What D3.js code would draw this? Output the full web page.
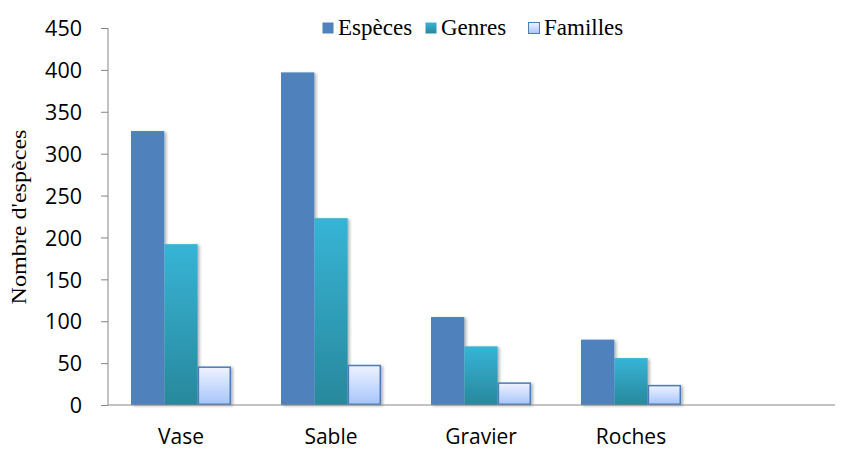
<!DOCTYPE html>
<html>
<head>
<meta charset="utf-8">
<script src="https://cdn.jsdelivr.net/npm/d3@7"></script>
<style>
  body { margin: 0; background: #fff; }
</style>
</head>
<body>
<div id="chart"></div>
<script>
var categories = ['Vase', 'Sable', 'Gravier', 'Roches'];
var seriesNames = ['Espèces', 'Genres', 'Familles'];
var especes = [327, 397, 105, 78];
var genres = [192, 223, 70, 56];
var familles = [46, 48, 27, 24];
var yTicks = [0, 50, 100, 150, 200, 250, 300, 350, 400, 450];

var width = 842, height = 449;
var margin = {left: 108, top: 28, bottom: 44};
var axisEnd = 835;

var svg = d3.select('#chart').append('svg')
  .attr('width', width)
  .attr('height', height);

var defs = svg.append('defs');

// gradient for Genres
var g1 = defs.append('linearGradient').attr('id', 'grad-genres')
  .attr('x1', 0).attr('y1', 0).attr('x2', 0).attr('y2', 1);
g1.append('stop').attr('offset', '0%').attr('stop-color', '#37b4d6');
g1.append('stop').attr('offset', '100%').attr('stop-color', '#28889c');

// gradient for Familles
var g2 = defs.append('linearGradient').attr('id', 'grad-familles')
  .attr('x1', 0).attr('y1', 0).attr('x2', 0).attr('y2', 1);
g2.append('stop').attr('offset', '0%').attr('stop-color', '#eef3ff');
g2.append('stop').attr('offset', '100%').attr('stop-color', '#a7c5fb');

// soft shadow
var filter = defs.append('filter').attr('id', 'shadow')
  .attr('x', '-20%').attr('y', '-10%').attr('width', '150%').attr('height', '130%');
filter.append('feGaussianBlur').attr('in', 'SourceAlpha').attr('stdDeviation', 1.5).attr('result', 'blur');
filter.append('feOffset').attr('in', 'blur').attr('dx', 2).attr('dy', 1).attr('result', 'offsetBlur');
filter.append('feComponentTransfer').attr('in', 'offsetBlur').attr('result', 'fade')
  .append('feFuncA').attr('type', 'linear').attr('slope', 0.3);
var feMerge = filter.append('feMerge');
feMerge.append('feMergeNode').attr('in', 'fade');
feMerge.append('feMergeNode').attr('in', 'SourceGraphic');

var y = d3.scaleLinear()
  .domain([0, 450])
  .range([height - margin.bottom, margin.top]);

var x = d3.scaleBand()
  .domain(categories)
  .range([margin.left - 2, margin.left + 598])
  .paddingInner(1 / 3)
  .paddingOuter(1 / 6);

var xSub = d3.scaleBand()
  .domain(seriesNames)
  .range([0, x.bandwidth()]);

var fills = {'Espèces': '#4f81bd', 'Genres': 'url(#grad-genres)', 'Familles': 'url(#grad-familles)'};
var strokes = {'Espèces': 'none', 'Genres': 'none', 'Familles': '#4a7ebb'};

var rows = categories.map(function(c, i) {
  return {cat: c, values: [
    {name: 'Espèces', value: especes[i]},
    {name: 'Genres', value: genres[i]},
    {name: 'Familles', value: familles[i]}
  ]};
});

var groups = svg.selectAll('.group')
  .data(rows)
  .enter().append('g')
  .attr('class', 'group')
  .attr('transform', function(d) { return 'translate(' + x(d.cat) + ',0)'; });

groups.selectAll('rect')
  .data(function(d) { return d.values; })
  .enter().append('rect')
  .attr('x', function(d) { return xSub(d.name) + (d.name === 'Familles' ? 0.75 : 0); })
  .attr('y', function(d) { return y(d.value) + (d.name === 'Familles' ? 0.75 : 0); })
  .attr('width', function(d) { return xSub.bandwidth() - (d.name === 'Familles' ? 1.5 : 0); })
  .attr('height', function(d) { return y(0) - y(d.value) - (d.name === 'Familles' ? 1.5 : 0); })
  .style('filter', 'url(#shadow)')
  .attr('fill', function(d) { return fills[d.name]; })
  .attr('stroke', function(d) { return strokes[d.name]; })
  .attr('stroke-width', 1.5);

// y axis
var yAxis = d3.axisLeft(y).tickValues(yTicks).tickSize(7).tickPadding(19);
var yg = svg.append('g')
  .attr('transform', 'translate(' + margin.left + ',0)')
  .call(yAxis);
yg.select('.domain').attr('stroke', '#868686').attr('d', 'M0,' + y(450) + 'V' + y(0));
yg.selectAll('.tick line').attr('stroke', '#868686');
yg.selectAll('.tick text')
  .attr('fill', '#000')
  .style('font-family', '"Open Sans", "Liberation Sans", sans-serif')
  .style('font-size', '21.5px')
  .attr('dy', '0.36em');

// x axis line
svg.append('line')
  .attr('x1', margin.left).attr('x2', axisEnd)
  .attr('y1', y(0)).attr('y2', y(0))
  .attr('stroke', '#868686').attr('stroke-width', 1);

svg.selectAll('.xlabel')
  .data(categories)
  .enter().append('text')
  .attr('class', 'xlabel')
  .attr('x', function(d) { return x(d) + x.bandwidth() / 2; })
  .attr('y', 444)
  .attr('text-anchor', 'middle')
  .style('font-family', '"Open Sans", "Liberation Sans", sans-serif')
  .style('font-size', '21px')
  .text(function(d) { return d; });

// y title
svg.append('text')
  .attr('transform', 'translate(26,' + 217 + ') rotate(-90)')
  .attr('text-anchor', 'middle')
  .attr('textLength', 175)
  .attr('lengthAdjust', 'spacingAndGlyphs')
  .style('font-family', '"Liberation Serif", "DejaVu Serif", serif')
  .style('font-size', '21px')
  .text("Nombre d'espèces");

// legend
var legendX = [322, 425, 528];
var legend = svg.selectAll('.legend')
  .data(seriesNames)
  .enter().append('g')
  .attr('class', 'legend')
  .attr('transform', function(d, i) { return 'translate(' + legendX[i] + ',22)'; });

legend.append('rect')
  .attr('x', 0.5).attr('y', 0.5)
  .attr('width', 11).attr('height', 11)
  .attr('fill', function(d) { return fills[d]; })
  .attr('stroke', function(d) { return strokes[d]; })
  .attr('stroke-width', 1);

legend.append('text')
  .attr('x', 16).attr('y', 13)
  .style('font-family', '"Liberation Serif", "DejaVu Serif", serif')
  .style('font-size', '23px')
  .text(function(d) { return d; });
</script>
</body>
</html>
